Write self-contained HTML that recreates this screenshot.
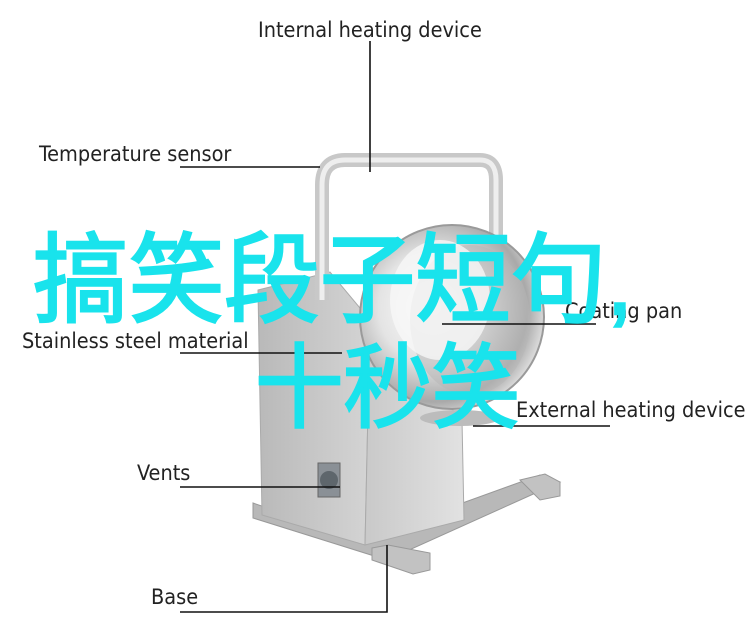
<!DOCTYPE html>
<html><head><meta charset="utf-8"><style>
html,body{margin:0;padding:0;background:#fff;width:750px;height:636px;overflow:hidden}
svg{display:block}
.l{font-family:"DejaVu Sans Condensed","Liberation Sans",sans-serif;font-size:21.5px;fill:#222}
.c{font-family:"Liberation Sans","Noto Sans CJK SC",sans-serif;fill:#19e3ec;stroke:#19e3ec;stroke-width:2.5}
</style></head><body>
<svg width="750" height="636" viewBox="0 0 750 636">
<defs>
<linearGradient id="body" x1="0" x2="1"><stop offset="0" stop-color="#b9b9b9"/><stop offset="1" stop-color="#d4d4d4"/></linearGradient>
<linearGradient id="front" x1="0" x2="1"><stop offset="0" stop-color="#c9c9c9"/><stop offset="1" stop-color="#e2e2e2"/></linearGradient>
<radialGradient id="sph" cx="0.4" cy="0.45" r="0.6"><stop offset="0" stop-color="#ffffff"/><stop offset="0.5" stop-color="#e4e4e4"/><stop offset="0.85" stop-color="#a9a9a9"/><stop offset="1" stop-color="#d8d8d8"/></radialGradient>
</defs>
<polygon points="253,503 360,540 540,475 560,482 387,560 253,518" fill="#b8b8b8" stroke="#999" stroke-width="1"/>
<polygon points="372,548 388,545 430,553 430,570 413,574 372,560" fill="#c2c2c2" stroke="#999" stroke-width="1"/>
<polygon points="520,480 545,474 560,482 560,496 540,500" fill="#c2c2c2" stroke="#999"/>
<polygon points="258,290 330,272 370,320 365,545 262,515" fill="url(#body)" stroke="#aaa"/>
<polygon points="370,320 462,420 464,520 365,545" fill="url(#front)" stroke="#aaa"/>
<rect x="318" y="463" width="22" height="34" fill="#8a9096" stroke="#666"/>
<circle cx="329" cy="480" r="9" fill="#5e666c"/>
<path d="M322,300 L322,185 Q322,160 345,160 L480,160 Q496,160 496,180 L496,240" fill="none" stroke="#c8c8c8" stroke-width="14"/>
<path d="M322,300 L322,185 Q322,160 345,160 L480,160 Q496,160 496,180 L496,240" fill="none" stroke="#eeeeee" stroke-width="5"/>
<circle cx="452" cy="317" r="92" fill="url(#sph)" stroke="#9a9a9a" stroke-width="2"/>
<ellipse cx="470" cy="320" rx="60" ry="75" fill="#b5b5b5" opacity="0.5"/>
<ellipse cx="440" cy="300" rx="50" ry="60" fill="#f7f7f7" opacity="0.8"/>
<ellipse cx="460" cy="418" rx="40" ry="8" fill="#bcbcbc"/>
<g stroke="#111" stroke-width="1.6" fill="none">
<line x1="370" y1="41" x2="370" y2="172"/>
<line x1="180" y1="167" x2="320" y2="167"/>
<line x1="442" y1="324" x2="596" y2="324"/>
<line x1="180" y1="353" x2="342" y2="353"/>
<line x1="473" y1="426" x2="610" y2="426"/>
<line x1="180" y1="487" x2="340" y2="487"/>
<polyline points="387,545 387,612 180,612"/>
</g>
<text class="l" x="258" y="37">Internal heating device</text>
<text class="l" x="39" y="161">Temperature sensor</text>
<text class="l" x="565" y="318">Coating pan</text>
<text class="l" x="22" y="348">Stainless steel material</text>
<text class="l" x="516" y="417">External heating device</text>
<text class="l" x="137" y="480">Vents</text>
<text class="l" x="151" y="604">Base</text>
<text class="c" x="33" y="314" font-size="98" textLength="600" lengthAdjust="spacingAndGlyphs">搞笑段子短句,</text>
<text class="c" x="255" y="420" font-size="92" textLength="265" lengthAdjust="spacingAndGlyphs">十秒笑</text>
</svg>
</body></html>
